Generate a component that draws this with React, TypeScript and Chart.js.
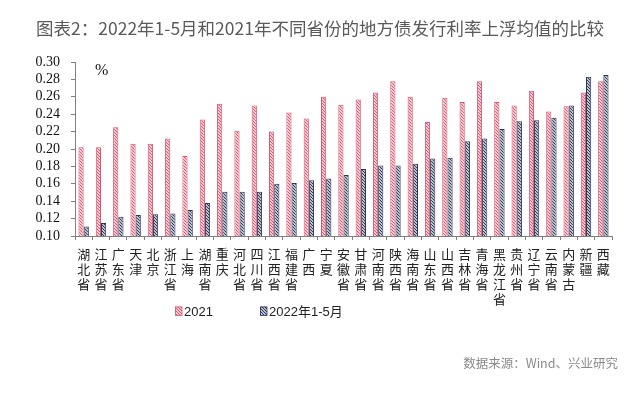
import React, { useEffect, useRef } from "react";
import { Chart, registerables } from "chart.js";

Chart.register(...registerables);

const provinces = [
  "湖北省", "江苏省", "广东省", "天津", "北京", "浙江省", "上海", "湖南省", "重庆", "河北省",
  "四川省", "江西省", "福建省", "广西", "宁夏", "安徽省", "甘肃省", "河南省", "陕西省", "海南省",
  "山东省", "山西省", "吉林省", "青海省", "黑龙江省", "贵州省", "辽宁省", "云南省", "内蒙古", "新疆", "西藏",
];

const values2021 = [
  0.202, 0.202, 0.225, 0.206, 0.206, 0.212, 0.192, 0.234, 0.252, 0.221,
  0.250, 0.220, 0.242, 0.235, 0.260, 0.251, 0.257, 0.265, 0.278, 0.260,
  0.231, 0.259, 0.254, 0.278, 0.254, 0.250, 0.267, 0.243, 0.249, 0.265, 0.278,
];

const values2022 = [
  0.111, 0.115, 0.122, 0.124, 0.125, 0.126, 0.130, 0.138, 0.151, 0.151,
  0.151, 0.160, 0.161, 0.164, 0.166, 0.170, 0.177, 0.181, 0.181, 0.183,
  0.189, 0.190, 0.209, 0.212, 0.223, 0.232, 0.233, 0.236, 0.250, 0.283, 0.285,
];

const seriesLabels = ["2021", "2022年1-5月"];
const yMin = 0.1;
const yMax = 0.3;
const yStep = 0.02;

const titleText = "图表2：2022年1-5月和2021年不同省份的地方债发行利率上浮均值的比较";
const sourceText = "数据来源：Wind、兴业研究";
const unitText = "%";

const RED = "#d9566f";
const NAVY = "#2a3658";

function makePattern(color: string): CanvasPattern | string {
  const c = document.createElement("canvas");
  c.width = 3;
  c.height = 3;
  const ctx = c.getContext("2d");
  if (!ctx) return color;
  ctx.fillStyle = "#ffffff";
  ctx.fillRect(0, 0, 3, 3);
  ctx.strokeStyle = color;
  ctx.lineWidth = 1.2;
  ctx.beginPath();
  ctx.moveTo(-1, -1);
  ctx.lineTo(4, 4);
  ctx.moveTo(2, -1);
  ctx.lineTo(4, 1);
  ctx.moveTo(-1, 2);
  ctx.lineTo(1, 4);
  ctx.stroke();
  return ctx.createPattern(c, "repeat") || color;
}

const overlayPlugin = {
  id: "overlay",
  afterDraw(chart: any) {
    const { ctx, chartArea } = chart;
    ctx.save();
    ctx.fillStyle = "#5a5a5a";
    ctx.font = '17.5px "Noto Sans CJK SC"';
    ctx.textAlign = "center";
    ctx.textBaseline = "middle";
    ctx.fillText(titleText, 320, 28);
    ctx.fillStyle = "#111";
    ctx.font = '16px "Liberation Serif"';
    ctx.textAlign = "left";
    ctx.fillText(unitText, chartArea.left + 20, chartArea.top + 9);
    ctx.fillStyle = "#8a8a8a";
    ctx.font = '12.5px "Noto Sans CJK SC"';
    ctx.textAlign = "right";
    ctx.fillText(sourceText, 618, 363);
    const legendX = [175, 260];
    const ly = 311;
    chart.data.datasets.forEach((ds: any, i: number) => {
      const x = legendX[i];
      ctx.fillStyle = ds.backgroundColor;
      ctx.fillRect(x, ly - 4.5, 7, 9);
      ctx.strokeStyle = ds.borderColor;
      ctx.lineWidth = 0.8;
      ctx.strokeRect(x + 0.5, ly - 4, 6.5, 8.5);
      ctx.fillStyle = "#222";
      ctx.font = '13px "Liberation Sans", "Noto Sans CJK SC"';
      ctx.textAlign = "left";
      ctx.fillText(ds.label, x + 9, ly + 1);
    });
    ctx.restore();
  },
};

export default function App() {
  const canvasRef = useRef<HTMLCanvasElement | null>(null);

  useEffect(() => {
    document.body.style.margin = "0";
    const canvas = canvasRef.current;
    if (!canvas) return;
    const chart = new Chart(canvas, {
      type: "bar",
      data: {
        labels: provinces.map((p) => p.split("")),
        datasets: [
          {
            label: seriesLabels[0],
            data: values2021,
            backgroundColor: makePattern(RED) as any,
            borderColor: RED,
            borderWidth: 1,
            categoryPercentage: 0.6,
            barPercentage: 1,
          },
          {
            label: seriesLabels[1],
            data: values2022,
            backgroundColor: makePattern(NAVY) as any,
            borderColor: NAVY,
            borderWidth: 1,
            categoryPercentage: 0.6,
            barPercentage: 1,
          },
        ],
      },
      options: {
        animation: false,
        responsive: false,
        maintainAspectRatio: false,
        layout: { padding: { top: 62, right: 28, bottom: 0, left: 0 } },
        plugins: {
          legend: { display: false },
          title: { display: false },
          tooltip: { enabled: false },
        },
        scales: {
          x: {
            grid: {
              display: true,
              drawOnChartArea: false,
              drawTicks: true,
              tickLength: 4,
              color: "#808080",
              offset: true,
            },
            border: { display: true, color: "#808080", width: 1 },
            ticks: {
              autoSkip: false,
              maxRotation: 0,
              minRotation: 0,
              padding: 7,
              color: "#222",
              font: { family: '"Noto Sans CJK SC"', size: 13, lineHeight: "15px" },
            },
            afterFit(scale: any) {
              scale.height = 160;
            },
          },
          y: {
            min: yMin,
            max: yMax,
            grid: {
              display: true,
              drawOnChartArea: false,
              drawTicks: true,
              tickLength: 4,
              color: "#808080",
            },
            border: { display: true, color: "#808080", width: 1 },
            ticks: {
              stepSize: yStep,
              autoSkip: false,
              padding: 11,
              color: "#111",
              font: { family: '"Liberation Serif"', size: 14 },
              callback: (v: any) => Number(v).toFixed(2),
            },
            afterFit(scale: any) {
              scale.width = 75;
            },
          },
        },
      },
      plugins: [overlayPlugin],
    });
    return () => chart.destroy();
  }, []);

  return (
    <div style={{ width: 640, height: 396, background: "#fff" }}>
      <canvas ref={canvasRef} width={640} height={396} style={{ width: 640, height: 396, display: "block" }} />
    </div>
  );
}
